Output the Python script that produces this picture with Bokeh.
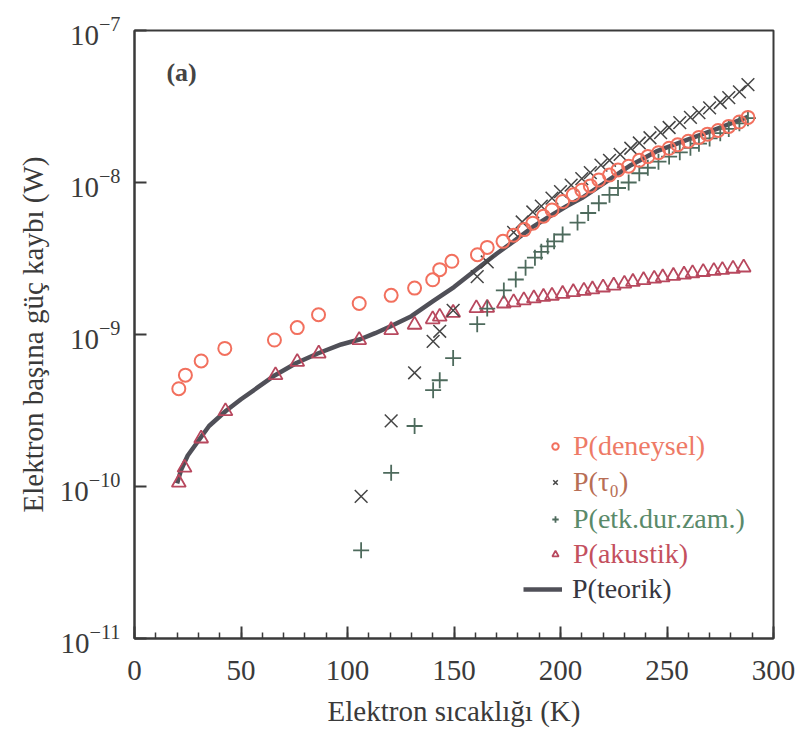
from bokeh.plotting import figure
from bokeh.models import Range1d, Legend, LegendItem, Label, ColumnDataSource
from bokeh.embed import file_html
from bokeh.resources import INLINE

# ---------------- data ----------------
deneysel_T = [20.8, 23.9, 31.3, 42.4, 65.7, 76.4, 86.4, 105.5, 120.5, 131.5, 140.0, 143.3,
              149.0, 161.0, 165.6, 173.0, 178.0, 183.0, 187.0, 192.0, 196.0, 201.0, 206.0,
              210.0, 214.0, 218.0, 223.0, 227.0, 232.0, 237.0, 241.0, 246.0, 251.0, 255.0,
              260.0, 265.0, 269.0, 274.0, 279.0, 284.0, 288.0]
deneysel_P = [4.4e-10, 5.4e-10, 6.7e-10, 8.1e-10, 9.2e-10, 1.11e-9, 1.35e-9, 1.6e-9, 1.81e-9,
              2.02e-9, 2.29e-9, 2.67e-9, 3.03e-9, 3.35e-9, 3.74e-9, 4.1e-9, 4.5e-9, 4.9e-9,
              5.4e-9, 6.0e-9, 6.6e-9, 7.5e-9, 8.3e-9, 8.9e-9, 9.5e-9, 1.04e-8, 1.12e-8,
              1.21e-8, 1.28e-8, 1.40e-8, 1.48e-8, 1.57e-8, 1.68e-8, 1.77e-8, 1.87e-8,
              1.98e-8, 2.08e-8, 2.20e-8, 2.34e-8, 2.50e-8, 2.68e-8]

tau0_T = [106.4, 120.5, 131.5, 140.2, 143.3, 149.6, 160.9, 165.6, 178.0, 182.0, 187.0, 191.0,
          196.0, 200.0, 205.0, 210.0, 214.0, 219.0, 223.0, 228.0, 233.0, 237.0, 242.0, 247.0,
          251.0, 256.0, 261.0, 265.0, 270.0, 275.0, 279.0, 284.0, 288.0]
tau0_P = [8.6e-11, 2.7e-10, 5.6e-10, 9.0e-10, 1.05e-9, 1.44e-9, 2.4e-9, 3.0e-9, 4.7e-9, 5.5e-9,
          6.4e-9, 7.0e-9, 7.9e-9, 8.7e-9, 9.6e-9, 1.06e-8, 1.16e-8, 1.30e-8, 1.40e-8, 1.53e-8,
          1.68e-8, 1.82e-8, 1.97e-8, 2.13e-8, 2.30e-8, 2.48e-8, 2.68e-8, 2.88e-8, 3.10e-8,
          3.36e-8, 3.62e-8, 3.95e-8, 4.40e-8]

etk_T = [106.4, 120.5, 131.5, 140.2, 143.3, 149.6, 160.9, 165.6, 173.4, 179.0, 183.6, 188.0,
         191.0, 194.0, 197.0, 201.0, 208.0, 213.0, 218.0, 223.0, 227.0, 232.0, 237.0, 241.0,
         246.0, 251.0, 256.0, 261.0, 265.0, 270.0, 275.0, 279.0, 284.0, 288.0]
etk_P = [3.8e-11, 1.23e-10, 2.5e-10, 4.3e-10, 5.0e-10, 7.0e-10, 1.17e-9, 1.48e-9, 1.95e-9,
         2.3e-9, 2.75e-9, 3.2e-9, 3.5e-9, 3.8e-9, 4.1e-9, 4.55e-9, 5.45e-9, 6.3e-9, 7.3e-9,
         8.3e-9, 9.2e-9, 1.0e-8, 1.15e-8, 1.25e-8, 1.37e-8, 1.48e-8, 1.58e-8, 1.69e-8,
         1.80e-8, 1.95e-8, 2.11e-8, 2.25e-8, 2.45e-8, 2.65e-8]

akustik_T = [20.8, 23.5, 31.3, 42.7, 66.2, 76.4, 86.5, 105.5, 120.5, 131.5, 140.0, 143.3,
             149.6, 160.5, 165.6, 173.4, 178.0, 182.8, 187.5, 192.0, 196.0, 201.0, 206.0,
             211.0, 215.0, 220.0, 225.0, 230.0, 234.0, 239.0, 244.0, 248.0, 253.0, 258.0,
             262.0, 267.0, 272.0, 276.0, 281.0, 286.0]
akustik_P = [1.06e-10, 1.33e-10, 2.07e-10, 3.13e-10, 5.4e-10, 6.6e-10, 7.5e-10, 9.2e-10,
             1.07e-9, 1.16e-9, 1.26e-9, 1.31e-9, 1.39e-9, 1.49e-9, 1.5e-9, 1.6e-9, 1.63e-9,
             1.68e-9, 1.73e-9, 1.77e-9, 1.80e-9, 1.85e-9, 1.90e-9, 1.94e-9, 1.98e-9, 2.04e-9,
             2.10e-9, 2.16e-9, 2.22e-9, 2.28e-9, 2.33e-9, 2.38e-9, 2.43e-9, 2.48e-9, 2.53e-9,
             2.58e-9, 2.62e-9, 2.66e-9, 2.71e-9, 2.76e-9]

teorik_T = [20, 22, 25, 30, 35, 43, 50, 58, 66, 76, 86, 97, 106, 113, 120, 130, 140, 150, 160,
            170, 178, 187, 195, 203, 210, 220, 233, 245, 260, 275, 288]
teorik_P = [1.05e-10, 1.3e-10, 1.6e-10, 2.0e-10, 2.5e-10, 3.15e-10, 3.75e-10, 4.5e-10, 5.4e-10,
            6.5e-10, 7.5e-10, 8.6e-10, 9.3e-10, 1.02e-9, 1.13e-9, 1.32e-9, 1.65e-9, 2.05e-9,
            2.65e-9, 3.4e-9, 4.1e-9, 5.1e-9, 6.0e-9, 7.0e-9, 7.9e-9, 9.8e-9, 1.3e-8, 1.6e-8,
            1.92e-8, 2.3e-8, 2.7e-8]

labels = ["P(deneysel)", "P(τ₀)", "P(etk.dur.zam.)", "P(akustik)", "P(teorik)"]
x_label = "Elektron sıcaklığı (K)"
y_label = "Elektron başına güç kaybı (W)"
panel_tag = "(a)"

FONT = "'Liberation Serif', 'Times New Roman', serif"
AXC = "#3a3a3a"

p = figure(width=802, height=738, y_axis_type="log",
           x_range=Range1d(0, 300), y_range=Range1d(1e-11, 1e-7),
           output_backend="svg", toolbar_location=None,
           min_border_left=134, min_border_right=29, min_border_top=30, min_border_bottom=100)
p.background_fill_color = "white"
p.border_fill_color = "white"
p.grid.visible = False
p.outline_line_color = AXC
p.outline_line_width = 2

for ax in (p.xaxis[0], p.yaxis[0]):
    ax.axis_line_color = AXC
    ax.axis_line_width = 2
    ax.major_tick_line_color = AXC
    ax.major_tick_line_width = 2
    ax.major_tick_in = 12
    ax.major_tick_out = 0
    ax.minor_tick_in = 6
    ax.minor_tick_out = 0
    ax.minor_tick_line_color = AXC
    ax.minor_tick_line_width = 1.5
    ax.major_label_text_font = FONT
    ax.major_label_text_font_size = "29px"
    ax.major_label_text_color = AXC
    ax.axis_label_text_font = FONT
    ax.axis_label_text_font_size = "29px"
    ax.axis_label_text_font_style = "normal"
    ax.axis_label_text_color = AXC

p.xaxis.axis_label = x_label
p.yaxis.axis_label = y_label
p.xaxis.ticker.desired_num_ticks = 6
p.xaxis.ticker.num_minor_ticks = 5
p.xaxis.major_label_standoff = 22
p.xaxis.axis_label_standoff = 12
p.yaxis.minor_tick_line_color = None
p.yaxis.major_label_standoff = 14
p.yaxis.axis_label_standoff = 8

teo = ColumnDataSource(dict(x=teorik_T, y=teorik_P))
r_teo = p.line("x", "y", source=teo, line_color="#505058", line_width=4.5)

r_ak = p.scatter(akustik_T, akustik_P, marker="triangle", size=14, fill_color=None,
                 line_color="#b8485e", line_width=1.8)
r_etk = p.scatter(etk_T, etk_P, marker="cross", size=16, line_color="#4d6a5c", line_width=1.8)
r_tau = p.scatter(tau0_T, tau0_P, marker="x", size=18, line_color="#454545", line_width=1.5)
r_den = p.scatter(deneysel_T, deneysel_P, marker="circle", size=13, fill_color=None,
                  line_color="#f2705e", line_width=2)

p.add_layout(Label(x=15, y=5.3e-8, text=panel_tag, text_font=FONT, text_font_size="26px",
                   text_font_style="bold", text_color="#444444", text_baseline="middle"))

legend_specs = [
    (labels[0], r_den, "#ee7a66", (413, 176), 16),
    (labels[1], r_tau, "#b86e55", (413, 140), 16),
    (labels[2], r_etk, "#5a8a6a", (413, 103), 16),
    (labels[3], r_ak, "#c4505e", (413, 68), 16),
    (labels[4], r_teo, "#363640", (389, 33), 39),
]
for lab, rend, col, loc, gw in legend_specs:
    leg = Legend(items=[LegendItem(label=lab, renderers=[rend])], location=loc,
                 glyph_width=gw, glyph_height=30, label_height=30, label_standoff=10,
                 padding=0, margin=0, spacing=0, border_line_color=None,
                 background_fill_alpha=0, label_text_font=FONT, label_text_font_size="28px",
                 label_text_color=col)
    p.add_layout(leg)

open("out.html", "w").write(file_html(p, INLINE))
